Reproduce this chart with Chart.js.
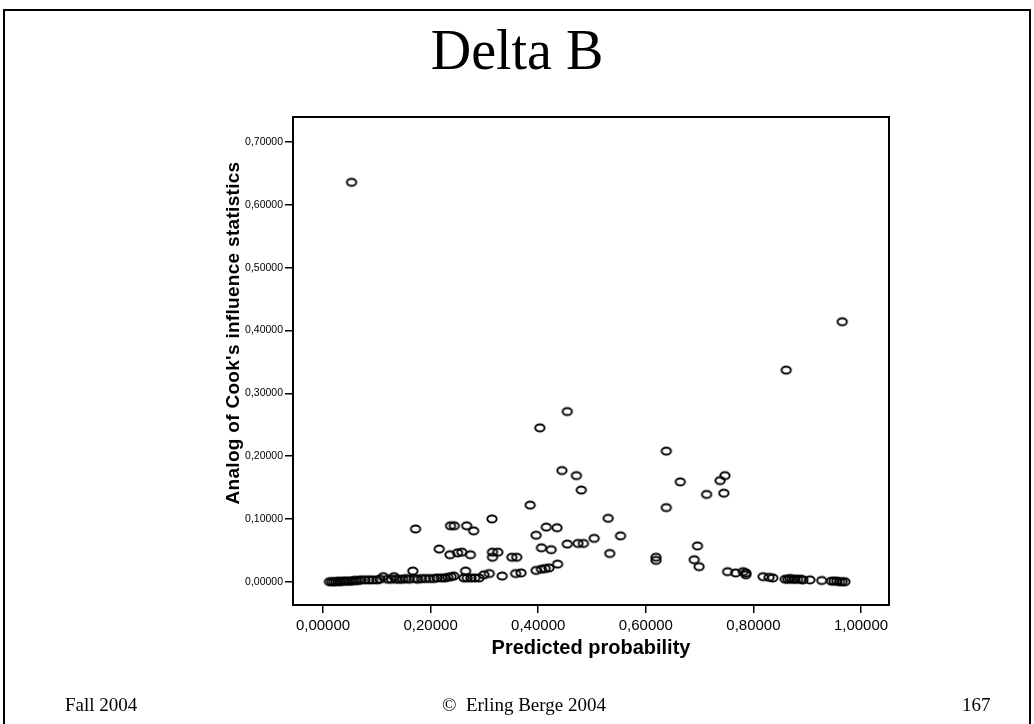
<!DOCTYPE html>
<html>
<head>
<meta charset="utf-8">
<title>Delta B</title>
<script src="https://cdn.jsdelivr.net/npm/chart.js@4.4.1/dist/chart.umd.min.js"></script>
<style>
  html, body { margin: 0; padding: 0; background: #fff; }
  #slide { position: relative; width: 1034px; height: 724px; overflow: hidden; }
  #frame { position: absolute; left: 3px; top: 9px; width: 1024px; height: 740px; border: 2px solid #000; }
  #title { position: absolute; left: 0; top: 22px; width: 1034px; text-align: center;
           font: 56px 'Liberation Serif', serif; line-height: 56px; color: #000; }
  #chart { position: absolute; left: 0; top: 0; }
  #ytitle { position: absolute; left: 33px; top: 322px; width: 400px; height: 22px; line-height: 22px;
            text-align: center; font: bold 19px 'Liberation Sans', Arial, sans-serif; color: #000;
            letter-spacing: 0.3px; transform: rotate(-90deg); transform-origin: 200px 11px; }
  .foot { position: absolute; top: 695px; font: 19px 'Liberation Serif', serif; line-height: 19px; color: #000; }
</style>
</head>
<body>
<div id="slide">
  <div id="frame"></div>
  <div id="title">Delta B</div>
  <canvas id="chart" width="1034" height="724"></canvas>
  <div id="ytitle">Analog of Cook's influence statistics</div>
  <div class="foot" style="left:65px">Fall 2004</div>
  <div class="foot" style="left:442px">&copy;&nbsp; Erling Berge 2004</div>
  <div class="foot" style="left:962px">167</div>
</div>
<script>
// valores (probabilidad predicha, Cook)
const probX = [
  0.012, 0.016, 0.020, 0.024, 0.028, 0.032, 0.036, 0.040, 0.044, 0.048,
  0.053, 0.057, 0.061, 0.066, 0.071, 0.078, 0.085, 0.092, 0.100, 0.106,
  0.112, 0.120, 0.127, 0.132, 0.136, 0.142, 0.148, 0.154, 0.160, 0.167,
  0.172, 0.170, 0.176, 0.183, 0.190, 0.198, 0.206, 0.212, 0.216, 0.220,
  0.226, 0.232, 0.238, 0.243, 0.237, 0.244, 0.236, 0.250, 0.258, 0.274,
  0.265, 0.262, 0.268, 0.275, 0.282, 0.290, 0.267, 0.280, 0.299, 0.309,
  0.333, 0.314, 0.315, 0.325, 0.315, 0.351, 0.360, 0.358, 0.368, 0.385,
  0.396, 0.396, 0.403, 0.406, 0.406, 0.413, 0.415, 0.420, 0.424, 0.435,
  0.436, 0.444, 0.454, 0.454, 0.471, 0.474, 0.480, 0.484, 0.504, 0.530,
  0.533, 0.553, 0.619, 0.619, 0.638, 0.638, 0.664, 0.690, 0.696, 0.699,
  0.713, 0.738, 0.745, 0.747, 0.752, 0.767, 0.781, 0.786, 0.786, 0.818,
  0.829, 0.836, 0.859, 0.864, 0.868, 0.872, 0.877, 0.882, 0.888, 0.892,
  0.905, 0.927, 0.945, 0.950, 0.955, 0.960, 0.965, 0.970, 0.861, 0.965,
  0.053
];
const cookY = [
  0.000, 0.000, 0.000, 0.000, 0.001, 0.000, 0.001, 0.001, 0.001, 0.001,
  0.001, 0.002, 0.002, 0.002, 0.003, 0.003, 0.003, 0.003, 0.003, 0.004,
  0.008, 0.004, 0.004, 0.008, 0.004, 0.004, 0.004, 0.005, 0.004, 0.017,
  0.084, 0.005, 0.004, 0.005, 0.005, 0.005, 0.005, 0.006, 0.052, 0.006,
  0.006, 0.007, 0.008, 0.009, 0.089, 0.089, 0.043, 0.046, 0.047, 0.043,
  0.017, 0.006, 0.006, 0.006, 0.006, 0.006, 0.089, 0.081, 0.011, 0.013,
  0.009, 0.100, 0.047, 0.047, 0.039, 0.039, 0.039, 0.013, 0.014, 0.122,
  0.074, 0.018, 0.245, 0.020, 0.054, 0.021, 0.087, 0.022, 0.051, 0.086,
  0.028, 0.177, 0.271, 0.060, 0.169, 0.061, 0.146, 0.061, 0.069, 0.101,
  0.045, 0.073, 0.039, 0.034, 0.208, 0.118, 0.159, 0.035, 0.057, 0.024,
  0.139, 0.161, 0.141, 0.169, 0.016, 0.014, 0.016, 0.011, 0.014, 0.008,
  0.007, 0.006, 0.004, 0.004, 0.005, 0.004, 0.004, 0.004, 0.004, 0.003,
  0.003, 0.002, 0.001, 0.001, 0.001, 0.000, 0.000, 0.000, 0.337, 0.414,
  0.636
];
const xTicks = [0, 0.2, 0.4, 0.6, 0.8, 1.0];
const yTicks = [0, 0.1, 0.2, 0.3, 0.4, 0.5, 0.6, 0.7];

// formato con coma decimal, 5 decimales
const fmt = (v) => v.toFixed(5).replace('.', ',');

// marcador: ovalo abierto
function makeMarker() {
  const c = document.createElement('canvas');
  c.width = 14;
  c.height = 12;
  const g = c.getContext('2d');
  g.strokeStyle = '#000';
  g.lineWidth = 1.9;
  g.beginPath();
  g.ellipse(7, 6, 4.7, 3.5, 0, 0, Math.PI * 2);
  g.stroke();
  return c;
}

// marco completo alrededor del area de datos
const boxPlugin = {
  id: 'box',
  afterDraw(chart) {
    const { ctx, chartArea: a } = chart;
    ctx.save();
    ctx.strokeStyle = '#000';
    ctx.lineWidth = 2;
    ctx.strokeRect(a.left, a.top, a.right - a.left, a.bottom - a.top);
    ctx.restore();
  }
};

const sans = "'Liberation Sans', Arial, sans-serif";

new Chart(document.getElementById('chart').getContext('2d'), {
  type: 'scatter',
  data: {
    datasets: [{
      data: probX.map((x, i) => ({ x, y: cookY[i] })),
      pointStyle: makeMarker(),
      pointRadius: 5,
      showLine: false
    }]
  },
  options: {
    responsive: false,
    animation: false,
    layout: { padding: { left: 200, right: 145, top: 117, bottom: 39 } },
    plugins: { legend: { display: false }, tooltip: { enabled: false } },
    scales: {
      x: {
        type: 'linear',
        min: -0.0558,
        max: 1.052,
        afterBuildTicks: (s) => { s.ticks = xTicks.map((v) => ({ value: v })); },
        afterFit: (s) => { s.height = 80; },
        ticks: { callback: (v) => fmt(v), font: { family: sans, size: 15 }, color: '#000', padding: 4, maxRotation: 0 },
        grid: { drawOnChartArea: false, drawTicks: true, tickLength: 8, color: '#000', lineWidth: 1.5 },
        border: { display: false },
        title: {
          display: true,
          text: 'Predicted probability',
          color: '#000',
          font: { family: sans, size: 20, weight: 'bold' },
          padding: { top: 0, bottom: 25 }
        }
      },
      y: {
        type: 'linear',
        min: -0.0371,
        max: 0.740,
        afterBuildTicks: (s) => { s.ticks = yTicks.map((v) => ({ value: v })); },
        afterFit: (s) => { s.width = 93; },
        ticks: { callback: (v) => fmt(v), font: { family: sans, size: 10.5 }, color: '#000', padding: 2 },
        grid: { drawOnChartArea: false, drawTicks: true, tickLength: 8, color: '#000', lineWidth: 1.5 },
        border: { display: false }
      }
    }
  },
  plugins: [boxPlugin]
});
</script>
</body>
</html>
